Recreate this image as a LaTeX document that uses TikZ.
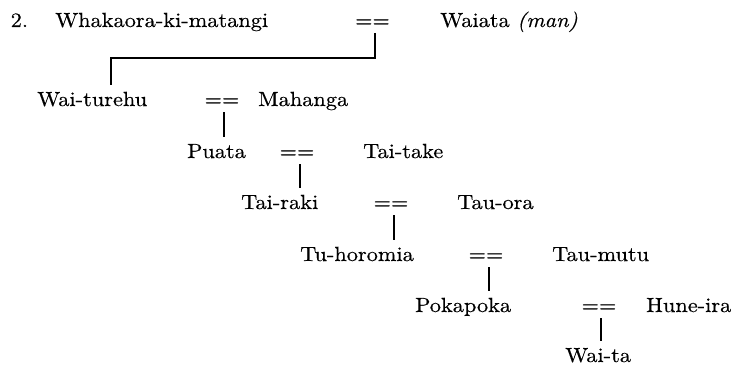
\documentclass[tikz,border=0pt]{standalone}
\usepackage{fontspec}
\setmainfont{lmroman10-regular.otf}[ItalicFont=lmroman10-italic.otf, FakeStretch=1.09, FakeBold=0.4]
\begin{document}
\begin{tikzpicture}[x=1pt,y=-1pt,
  pname/.style={anchor=base west, inner sep=0pt, font=\fontsize{20.5}{24}\selectfont},
  peq/.style={anchor=base, inner sep=0pt, font=\fontsize{20.5}{24}\selectfont},
  link/.style={line width=2pt, shorten <=6pt, shorten >=7pt}]
\useasboundingbox (0,0) rectangle (736,369);
% row 1
\node[pname] (num) at (10.5,27) {2.};
\node[pname] (wh) at (55,27) {Whakaora-ki-matangi};
\node[peq] (eq1) at (372.5,27) {==};
\node[pname] (wa) at (440,27) {Waiata \textit{(man)}};
% row 2
\node[pname] (wt) at (37,106) {Wai-turehu};
\node[peq] (eq2) at (222,106) {==};
\node[pname] (ma) at (258,106) {Mahanga};
% row 3
\node[pname] (pu) at (187,158) {Puata};
\node[peq] (eq3) at (297,158) {==};
\node[pname] (tt) at (363,158) {Tai-take};
% row 4
\node[pname] (tr) at (241,209) {Tai-raki};
\node[peq] (eq4) at (391,209) {==};
\node[pname] (to) at (457,209) {Tau-ora};
% row 5
\node[pname] (th) at (300,261) {Tu-horomia};
\node[peq] (eq5) at (486,261) {==};
\node[pname] (tm) at (552,261) {Tau-mutu};
% row 6
\node[pname] (pk) at (415,312) {Pokapoka};
\node[peq] (eq6) at (599,312) {==};
\node[pname] (hu) at (646,312) {Hune-ira};
% row 7
\node[pname] (wi) at (565,362) {Wai-ta};
% connectors
\coordinate (bk) at (111,58);
\draw[link] ([xshift=2.5pt]eq1.base) |- (bk) -- (bk |- wt.north);
\draw[link] ([xshift=2pt]eq2.base) -- ([xshift=2pt]eq2.base |- pu.north);
\draw[link] ([xshift=3pt]eq3.base) -- ([xshift=3pt]eq3.base |- tr.north);
\draw[link] ([xshift=3pt]eq4.base) -- ([xshift=3pt]eq4.base |- th.north);
\draw[link] ([xshift=3pt]eq5.base) -- ([xshift=3pt]eq5.base |- pk.north);
\draw[link] ([xshift=2pt]eq6.base) -- ([xshift=2pt]eq6.base |- wi.north);
\end{tikzpicture}
\end{document}
